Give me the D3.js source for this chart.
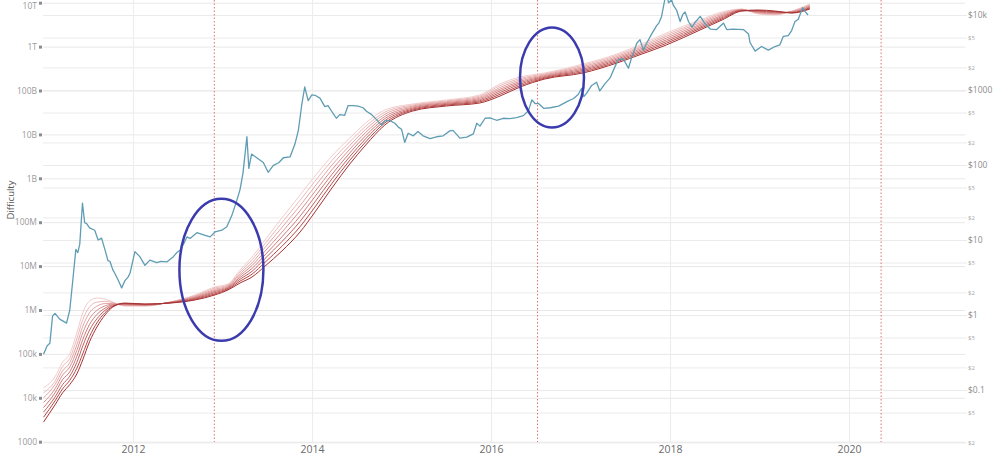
<!DOCTYPE html>
<html>
<head>
<meta charset="utf-8">
<script src="https://cdn.jsdelivr.net/npm/d3@7"></script>
<style>
  body { margin: 0; background: #fff; }
  svg { display: block; font-family: "Open Sans", sans-serif; }
</style>
</head>
<body>
<svg id="chart" width="1000" height="465"></svg>
<script>
// BTC price (right axis, USD)
const priceDates = [
  "2011-01-01","2011-01-16","2011-01-27","2011-02-07","2011-02-17","2011-03-08","2011-04-05","2011-04-18",
  "2011-05-01","2011-05-13","2011-05-21","2011-05-29","2011-06-09","2011-06-18","2011-06-26","2011-07-08",
  "2011-07-29","2011-08-12","2011-08-26","2011-09-09","2011-09-21","2011-09-29","2011-10-11","2011-10-19",
  "2011-11-02","2011-11-16","2011-11-30","2011-12-12","2011-12-20","2012-01-09","2012-01-29","2012-02-19",
  "2012-03-10","2012-04-07","2012-04-24","2012-05-18","2012-06-14","2012-06-28","2012-07-11","2012-07-27",
  "2012-08-08","2012-08-21","2012-09-18","2012-10-15","2012-11-11","2012-12-01","2012-12-29","2013-01-18",
  "2013-02-07","2013-02-27","2013-03-13","2013-03-25","2013-04-10","2013-04-18","2013-04-29","2013-05-20",
  "2013-06-16","2013-07-06","2013-07-26","2013-08-19","2013-09-06","2013-10-03","2013-10-23","2013-11-06",
  "2013-11-20","2013-12-02","2013-12-16","2013-12-31","2014-01-13","2014-02-02","2014-02-22","2014-03-07",
  "2014-03-27","2014-04-10","2014-04-24","2014-05-14","2014-05-28","2014-06-18","2014-07-08","2014-07-28",
  "2014-08-11","2014-09-01","2014-09-22","2014-10-12","2014-10-26","2014-11-15","2014-12-05","2014-12-19",
  "2015-01-01","2015-01-14","2015-01-28","2015-02-18","2015-03-09","2015-03-30","2015-04-27","2015-05-24",
  "2015-06-20","2015-07-17","2015-07-30","2015-08-27","2015-09-24","2015-10-21","2015-11-04","2015-11-17",
  "2015-12-08","2015-12-28","2016-01-24","2016-02-20","2016-03-18","2016-04-15","2016-05-12","2016-06-02",
  "2016-06-16","2016-06-29","2016-07-13","2016-08-03","2016-08-30","2016-10-03","2016-11-06","2016-12-03",
  "2016-12-22","2017-01-05","2017-01-14","2017-01-25","2017-02-15","2017-03-07","2017-03-20","2017-04-09",
  "2017-05-01","2017-05-21","2017-06-04","2017-06-24","2017-07-15","2017-07-28","2017-08-18","2017-08-31",
  "2017-09-14","2017-09-27","2017-10-18","2017-11-07","2017-11-16","2017-11-27","2017-12-11","2017-12-17",
  "2017-12-26","2018-01-07","2018-01-14","2018-01-28","2018-02-11","2018-02-22","2018-03-03","2018-03-17",
  "2018-03-31","2018-04-13","2018-05-04","2018-05-24","2018-06-14","2018-07-10","2018-08-07","2018-08-20",
  "2018-09-16","2018-10-27","2018-11-17","2018-11-23","2018-12-14","2019-01-09","2019-02-06","2019-03-05",
  "2019-03-25","2019-04-08","2019-04-28","2019-05-12","2019-05-25","2019-06-08","2019-06-26","2019-07-05",
  "2019-07-18"
];
const priceValues = [
  0.30, 0.39, 0.42, 0.97, 1.05, 0.88, 0.78, 1.15,
  3.0, 7.5, 6.8, 8.8, 31, 17, 16.5, 14.5,
  13.5, 10, 10.6, 7.4, 5.3, 5.2, 4.0, 3.6,
  2.9, 2.3, 2.9, 3.2, 3.6, 7.0, 6.0, 4.6,
  5.4, 5.0, 5.2, 5.1, 6.0, 6.8, 7.3, 9.0,
  11, 10.5, 12.5, 11.7, 11, 12.8, 13.5, 15,
  21, 33, 47, 78, 238, 90, 140, 125,
  108, 80, 98, 108, 125, 128, 190, 290,
  640, 1100, 720, 860, 850, 780, 600, 620,
  490, 420, 470, 460, 620, 620, 610, 580,
  520, 470, 400, 340, 390, 390, 360, 320,
  300, 200, 265, 245, 280, 245, 225, 238,
  245, 285, 290, 228, 235, 260, 360, 330,
  420, 425, 395, 420, 415, 428, 455, 530,
  740, 660, 660, 570, 580, 610, 700, 770,
  870, 1050, 820, 900, 1150, 1270, 970, 1200,
  1450, 2050, 2550, 2600, 1950, 2700, 4200, 4700,
  3400, 4200, 5600, 7200, 7800, 9500, 16500, 19000,
  14500, 16000, 13500, 11500, 8200, 10200, 11000, 8200,
  6900, 8000, 9600, 7600, 6500, 6400, 7800, 6400,
  6500, 6400, 5600, 4300, 3300, 3800, 3400, 3800,
  4000, 5200, 5300, 6200, 8100, 8800, 12500, 11200,
  10000
];

// Difficulty ribbon (left axis): each row holds the 8 moving averages, shortest to longest
const ribbonDates = [
  "2011-01-01","2011-02-17","2011-03-20","2011-04-18","2011-05-17","2011-06-10","2011-07-08","2011-08-07",
  "2011-09-09","2011-10-11","2011-11-29","2012-02-19","2012-05-31","2012-09-10","2012-11-30","2013-01-23",
  "2013-03-13","2013-05-01","2013-06-23","2013-08-31","2013-11-13","2014-01-13","2014-03-23","2014-06-04",
  "2014-08-08","2014-10-25","2015-02-16","2015-07-04","2015-11-16","2016-02-07","2016-04-29","2016-08-08",
  "2017-01-11","2017-05-29","2017-09-08","2017-12-17","2018-05-03","2018-08-01","2018-10-21","2018-12-26",
  "2019-03-04","2019-05-13","2019-07-25"
];
const ribbonRows = [
  [1.7e4, 1.3e4, 1.0e4, 7.8e3, 6.0e3, 4.7e3, 3.6e3, 2.8e3],
  [3.0e4, 2.4e4, 2.0e4, 1.6e4, 1.3e4, 1.04e4, 8.5e3, 6.9e3],
  [6.5e4, 5.2e4, 4.1e4, 3.3e4, 2.6e4, 2.0e4, 1.6e4, 1.3e4],
  [1.0e5, 7.9e4, 6.3e4, 5.0e4, 3.9e4, 3.1e4, 2.5e4, 2.0e4],
  [3.0e5, 2.2e5, 1.6e5, 1.2e5, 8.8e4, 6.4e4, 4.7e4, 3.5e4],
  [8.6e5, 6.0e5, 4.2e5, 3.0e5, 2.1e5, 1.5e5, 1.0e5, 7.3e4],
  [1.6e6, 1.18e6, 8.7e5, 6.4e5, 4.7e5, 3.5e5, 2.5e5, 1.9e5],
  [1.87e6, 1.51e6, 1.22e6, 9.8e5, 7.9e5, 6.3e5, 5.1e5, 4.1e5],
  [1.78e6, 1.58e6, 1.40e6, 1.24e6, 1.10e6, 9.8e5, 8.7e5, 7.7e5],
  [1.52e6, 1.47e6, 1.41e6, 1.36e6, 1.31e6, 1.26e6, 1.21e6, 1.17e6],
  [1.23e6, 1.26e6, 1.29e6, 1.32e6, 1.35e6, 1.38e6, 1.41e6, 1.44e6],
  [1.23e6, 1.25e6, 1.27e6, 1.29e6, 1.31e6, 1.33e6, 1.35e6, 1.37e6],
  [1.52e6, 1.51e6, 1.50e6, 1.49e6, 1.48e6, 1.47e6, 1.45e6, 1.44e6],
  [2.20e6, 2.12e6, 2.04e6, 1.96e6, 1.89e6, 1.82e6, 1.75e6, 1.69e6],
  [3.34e6, 3.15e6, 2.96e6, 2.79e6, 2.63e6, 2.48e6, 2.33e6, 2.20e6],
  [3.91e6, 3.74e6, 3.57e6, 3.42e6, 3.27e6, 3.13e6, 2.99e6, 2.86e6],
  [8.15e6, 7.40e6, 6.71e6, 6.08e6, 5.52e6, 5.01e6, 4.54e6, 4.12e6],
  [1.61e7, 1.39e7, 1.19e7, 1.03e7, 8.85e6, 7.62e6, 6.56e6, 5.65e6],
  [3.94e7, 3.24e7, 2.67e7, 2.19e7, 1.80e7, 1.49e7, 1.22e7, 1.00e7],
  [1.25e8, 9.75e7, 7.60e7, 5.94e7, 4.65e7, 3.62e7, 2.83e7, 2.21e7],
  [4.17e8, 3.16e8, 2.39e8, 1.82e8, 1.37e8, 1.04e8, 7.9e7, 5.98e7],
  [1.13e9, 8.61e8, 6.58e8, 5.02e8, 3.84e8, 2.92e8, 2.23e8, 1.71e8],
  [3.22e9, 2.54e9, 2.00e9, 1.57e9, 1.23e9, 9.7e8, 7.64e8, 6.01e8],
  [8.28e9, 6.81e9, 5.61e9, 4.61e9, 3.80e9, 3.13e9, 2.58e9, 2.12e9],
  [1.82e10, 1.54e10, 1.31e10, 1.11e10, 9.42e9, 7.98e9, 6.78e9, 5.74e9],
  [3.60e10, 3.21e10, 2.87e10, 2.56e10, 2.29e10, 2.05e10, 1.83e10, 1.64e10],
  [4.92e10, 4.67e10, 4.44e10, 4.21e10, 3.99e10, 3.78e10, 3.60e10, 3.41e10],
  [6.08e10, 5.81e10, 5.56e10, 5.31e10, 5.08e10, 4.85e10, 4.65e10, 4.44e10],
  [7.91e10, 7.45e10, 7.01e10, 6.61e10, 6.21e10, 5.85e10, 5.51e10, 5.19e10],
  [1.41e11, 1.29e11, 1.17e11, 1.07e11, 9.82e10, 8.97e10, 8.20e10, 7.50e10],
  [2.03e11, 1.88e11, 1.75e11, 1.62e11, 1.51e11, 1.40e11, 1.29e11, 1.20e11],
  [2.51e11, 2.39e11, 2.29e11, 2.19e11, 2.09e11, 2.00e11, 1.91e11, 1.83e11],
  [4.02e11, 3.76e11, 3.51e11, 3.28e11, 3.07e11, 2.87e11, 2.68e11, 2.51e11],
  [6.78e11, 6.34e11, 5.92e11, 5.53e11, 5.18e11, 4.84e11, 4.52e11, 4.23e11],
  [1.15e12, 1.06e12, 9.86e11, 9.14e11, 8.49e11, 7.87e11, 7.31e11, 6.78e11],
  [2.04e12, 1.87e12, 1.71e12, 1.56e12, 1.42e12, 1.30e12, 1.19e12, 1.09e12],
  [4.04e12, 3.74e12, 3.48e12, 3.22e12, 2.99e12, 2.77e12, 2.58e12, 2.39e12],
  [6.14e12, 5.78e12, 5.44e12, 5.13e12, 4.83e12, 4.55e12, 4.29e12, 4.04e12],
  [7.18e12, 7.08e12, 6.97e12, 6.87e12, 6.76e12, 6.67e12, 6.56e12, 6.47e12],
  [5.53e12, 5.70e12, 5.87e12, 6.05e12, 6.24e12, 6.43e12, 6.62e12, 6.82e12],
  [5.25e12, 5.41e12, 5.57e12, 5.74e12, 5.92e12, 6.10e12, 6.28e12, 6.47e12],
  [6.47e12, 6.37e12, 6.28e12, 6.18e12, 6.10e12, 6.00e12, 5.90e12, 5.82e12],
  [9.33e12, 8.99e12, 8.67e12, 8.34e12, 8.04e12, 7.74e12, 7.46e12, 7.18e12]
];

// Ticks
const diffTicks = [1e3, 1e4, 1e5, 1e6, 1e7, 1e8, 1e9, 1e10, 1e11, 1e12, 1e13];
const diffLabels = ["1000", "10k", "100k", "1M", "10M", "100M", "1B", "10B", "100B", "1T", "10T"];
const priceTicks = [0.02, 0.05, 0.1, 0.2, 0.5, 1, 2, 5, 10, 20, 50, 100, 200, 500, 1000, 2000, 5000, 10000];
const priceLabels = ["$2", "$5", "$0.1", "$2", "$5", "$1", "$2", "$5", "$10", "$2", "$5", "$100", "$2", "$5", "$1000", "$2", "$5", "$10k"];
const yearTicks = ["2012-01-01", "2014-01-01", "2016-01-01", "2018-01-01", "2020-01-01"];
const halvingDates = ["2012-11-28", "2016-07-09", "2020-05-11"];

// Hand-drawn highlight ellipses (centre date / price)
const highlightDates = ["2012-12-27", "2016-09-06"];
const highlightPrices = [4.0, 1470];

const ribbonColors = ["#f3cccc", "#ecb9b9", "#e4a5a5", "#da8f8f", "#cf7878", "#c36060", "#b64848", "#a63030"];

const svg = d3.select("#chart");
const plot = {left: 43, right: 965, top: 0, bottom: 442};
const parse = d3.timeParse("%Y-%m-%d");

const x = d3.scaleTime()
    .domain([parse("2011-01-01"), parse("2020-01-01")])
    .range([43.5, 849]);
const yDiff = d3.scaleLog().domain([1e3, 1e13]).range([441.7, 2.7]);
const yPrice = d3.scaleLog().domain([0.01, 1e4]).range([465, 15]);

svg.append("rect").attr("width", 1000).attr("height", 465).attr("fill", "#fff");

// Gridlines
const grid = svg.append("g");
grid.append("g")
    .attr("transform", `translate(${plot.left},0)`)
    .call(d3.axisLeft(yDiff).tickValues(diffTicks).tickFormat("").tickSize(-(plot.right - plot.left)))
    .call(g => g.select(".domain").remove())
    .selectAll("line").attr("stroke", "#e8e8e8");
grid.append("g")
    .attr("transform", `translate(${plot.left},0)`)
    .call(d3.axisLeft(yPrice).tickValues(priceTicks).tickFormat("").tickSize(-(plot.right - plot.left + 2)))
    .call(g => g.select(".domain").remove())
    .selectAll("line").attr("stroke", "#ebebeb");
grid.append("g")
    .attr("transform", `translate(0,${plot.bottom})`)
    .call(d3.axisBottom(x).tickValues(yearTicks.map(parse)).tickFormat("").tickSize(-plot.bottom))
    .call(g => g.select(".domain").remove())
    .selectAll("line").attr("stroke", "#ececec");

// Halving markers
svg.append("g").selectAll("line")
  .data(halvingDates.map(parse))
  .join("line")
    .attr("x1", d => x(d)).attr("x2", d => x(d))
    .attr("y1", plot.top).attr("y2", plot.bottom)
    .attr("stroke", "#e07070")
    .attr("stroke-width", 1)
    .attr("stroke-dasharray", "1.5,2");

svg.append("clipPath").attr("id", "clip")
  .append("rect")
    .attr("x", plot.left).attr("y", plot.top)
    .attr("width", plot.right - plot.left).attr("height", plot.bottom - plot.top);

const marks = svg.append("g").attr("clip-path", "url(#clip)");

// Difficulty ribbon
const rDates = ribbonDates.map(parse);
const ribbonLine = d3.line()
    .x(d => x(d[0]))
    .y(d => yDiff(d[1]))
    .curve(d3.curveMonotoneX);

ribbonColors.forEach((color, k) => {
  const pts = rDates.map((dt, i) => [dt, ribbonRows[i][k]]);
  marks.append("path")
      .attr("d", ribbonLine(pts))
      .attr("fill", "none")
      .attr("stroke", color)
      .attr("stroke-width", 1);
});

// Price
const priceLine = d3.line()
    .x((d, i) => x(parse(priceDates[i])))
    .y(d => yPrice(d));

marks.append("path")
    .attr("d", priceLine(priceValues))
    .attr("fill", "none")
    .attr("stroke", "#5e9db3")
    .attr("stroke-width", 1.3)
    .attr("stroke-linejoin", "round");

// Highlight ellipses
const radii = [[42, 71], [32, 50]];
svg.append("g").selectAll("ellipse")
  .data(highlightDates)
  .join("ellipse")
    .attr("cx", d => x(parse(d)))
    .attr("cy", (d, i) => yPrice(highlightPrices[i]))
    .attr("rx", (d, i) => radii[i][0])
    .attr("ry", (d, i) => radii[i][1])
    .attr("fill", "none")
    .attr("stroke", "#3b3bae")
    .attr("stroke-width", 2.5);

// Left axis (difficulty)
const leftAxis = svg.append("g")
    .attr("transform", `translate(${plot.left},0)`)
    .call(d3.axisLeft(yDiff).tickValues(diffTicks).tickFormat((d, i) => diffLabels[i]).tickSize(0).tickPadding(6));
leftAxis.select(".domain").remove();
leftAxis.selectAll("text")
    .attr("fill", "#9a9a9a")
    .attr("dy", d => d === 1e13 ? "0.72em" : "0.32em")
    .style("font-size", "8.5px")
    .style("font-family", "'Open Sans', sans-serif");
leftAxis.selectAll(".tick").append("rect")
    .attr("x", -4).attr("y", -1.5)
    .attr("width", 3).attr("height", 3)
    .attr("fill", "#8c8c8c");

// Right axis (price)
const isMinor = d => {
  const lab = priceLabels[priceTicks.indexOf(d)];
  return lab === "$2" || lab === "$5";
};
const rightAxis = svg.append("g")
    .attr("transform", `translate(${plot.right},0)`)
    .call(d3.axisRight(yPrice).tickValues(priceTicks).tickFormat((d, i) => priceLabels[i]).tickSize(0).tickPadding(3));
rightAxis.select(".domain").remove();
rightAxis.selectAll("text")
    .attr("fill", d => isMinor(d) ? "#a8a8a8" : "#8c8c8c")
    .style("font-size", d => isMinor(d) ? "6px" : "8.5px")
    .style("font-family", "'Open Sans', sans-serif");

// Bottom axis (years)
const bottomAxis = svg.append("g")
    .attr("transform", `translate(0,${plot.bottom})`)
    .call(d3.axisBottom(x).tickValues(yearTicks.map(parse)).tickFormat(d3.timeFormat("%Y")).tickSize(0).tickPadding(4));
bottomAxis.select(".domain").remove();
bottomAxis.selectAll("text")
    .attr("fill", "#6a6a6a")
    .style("font-size", "10.5px")
    .style("font-family", "'Open Sans', sans-serif");

// Axis title
svg.append("text")
    .attr("transform", "translate(14,200) rotate(-90)")
    .attr("text-anchor", "middle")
    .attr("fill", "#555")
    .style("font-size", "9.5px")
    .text("Difficulty");
</script>
</body>
</html>
